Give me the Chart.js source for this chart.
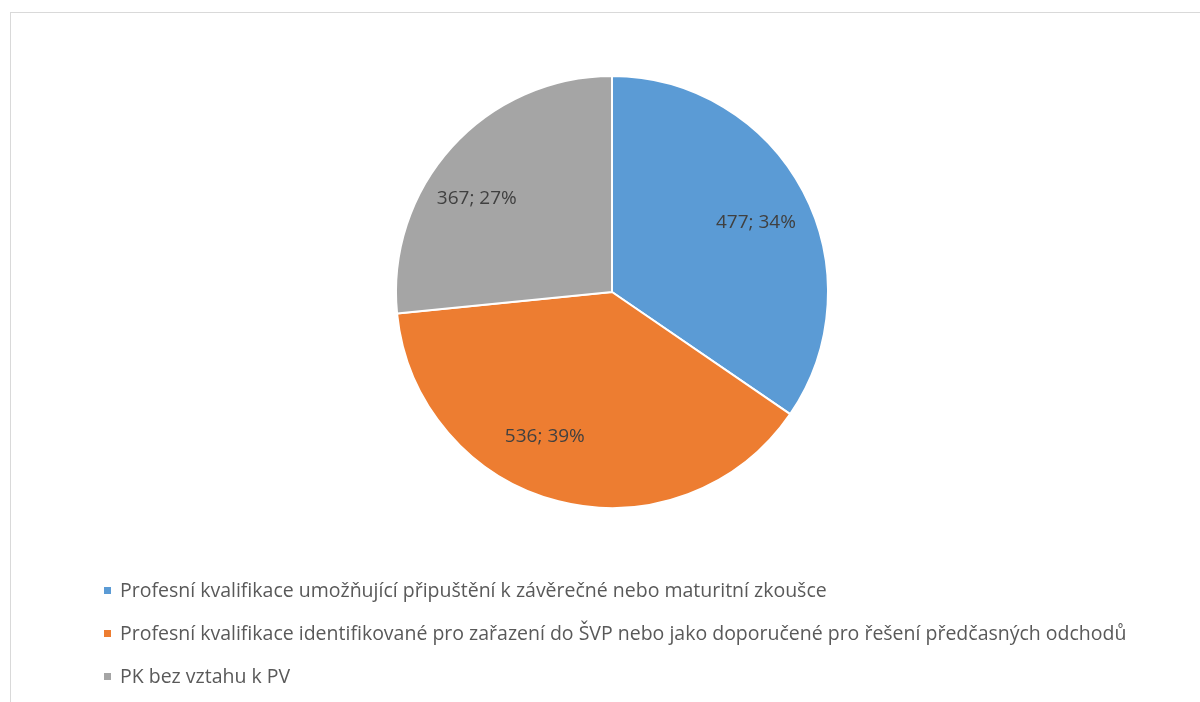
<!DOCTYPE html>
<html>
<head>
<meta charset="utf-8">
<script src="https://cdn.jsdelivr.net/npm/chart.js@4/dist/chart.umd.min.js"></script>
<style>
  html, body { margin: 0; padding: 0; background: #fff; }
  #wrap { position: relative; width: 1200px; height: 702px; overflow: hidden; }
  #frame { position: absolute; left: 10px; top: 12px; width: 1200px; height: 700px; border: 1px solid #d9d9d9; box-sizing: border-box; }
  canvas { position: absolute; left: 0; top: 0; }
</style>
</head>
<body>
<div id="wrap">
  <div id="frame"></div>
  <canvas id="pieChart" width="1200" height="702"></canvas>
</div>
<script>
const categories = [
    'Profesní kvalifikace umožňující připuštění k závěrečné nebo maturitní zkoušce',
    'Profesní kvalifikace identifikované pro zařazení do ŠVP nebo jako doporučené pro řešení předčasných odchodů',
    'PK bez vztahu k PV'
];
const counts = [477, 536, 367];
const percents = [34, 39, 27];
const colors = ['#5b9bd5', '#ed7d31', '#a5a5a5'];

const fontFamily = '"Open Sans", "Noto Sans", sans-serif';

// value labels inside the slices (Excel "best fit" sits a bit off the mid angle)
const sliceLabels = {
    id: 'sliceLabels',
    afterDatasetsDraw(chart, args, opts) {
        const ctx = chart.ctx;
        const meta = chart.getDatasetMeta(0);
        ctx.save();
        ctx.font = '19px ' + fontFamily;
        ctx.fillStyle = '#404040';
        ctx.textAlign = 'center';
        ctx.textBaseline = 'middle';
        meta.data.forEach(function (arc, i) {
            const p = arc.getProps(['x', 'y', 'startAngle', 'endAngle', 'outerRadius'], true);
            const mid = (p.startAngle + p.endAngle) / 2 + opts.angleShift[i] * Math.PI / 180;
            const r = p.outerRadius * opts.radius[i];
            ctx.fillText(counts[i] + '; ' + percents[i] + '%', p.x + Math.cos(mid) * r, p.y + Math.sin(mid) * r);
        });
        ctx.restore();
    }
};

// legend drawn one item per row, left aligned
const rowLegend = {
    id: 'rowLegend',
    afterDraw(chart) {
        const ctx = chart.ctx;
        ctx.save();
        ctx.font = '19.5px ' + fontFamily;
        ctx.textBaseline = 'middle';
        categories.forEach(function (label, i) {
            const y = 591 + i * 43;
            ctx.fillStyle = colors[i];
            ctx.fillRect(104, y - 4, 7, 7);
            ctx.fillStyle = '#595959';
            ctx.fillText(label, 120, y);
        });
        ctx.restore();
    }
};

new Chart(document.getElementById('pieChart'), {
    type: 'pie',
    data: {
        labels: categories,
        datasets: [{
            data: counts,
            backgroundColor: colors,
            borderColor: '#ffffff',
            borderWidth: 2
        }]
    },
    options: {
        responsive: false,
        animation: false,
        layout: { padding: { top: 75, bottom: 193, left: 24, right: 0 } },
        plugins: {
            legend: { display: false },
            tooltip: { enabled: false },
            sliceLabels: { angleShift: [2, 10.5, -7.6], radius: [0.74, 0.74, 0.76] }
        }
    },
    plugins: [sliceLabels, rowLegend]
});
</script>
</body>
</html>
